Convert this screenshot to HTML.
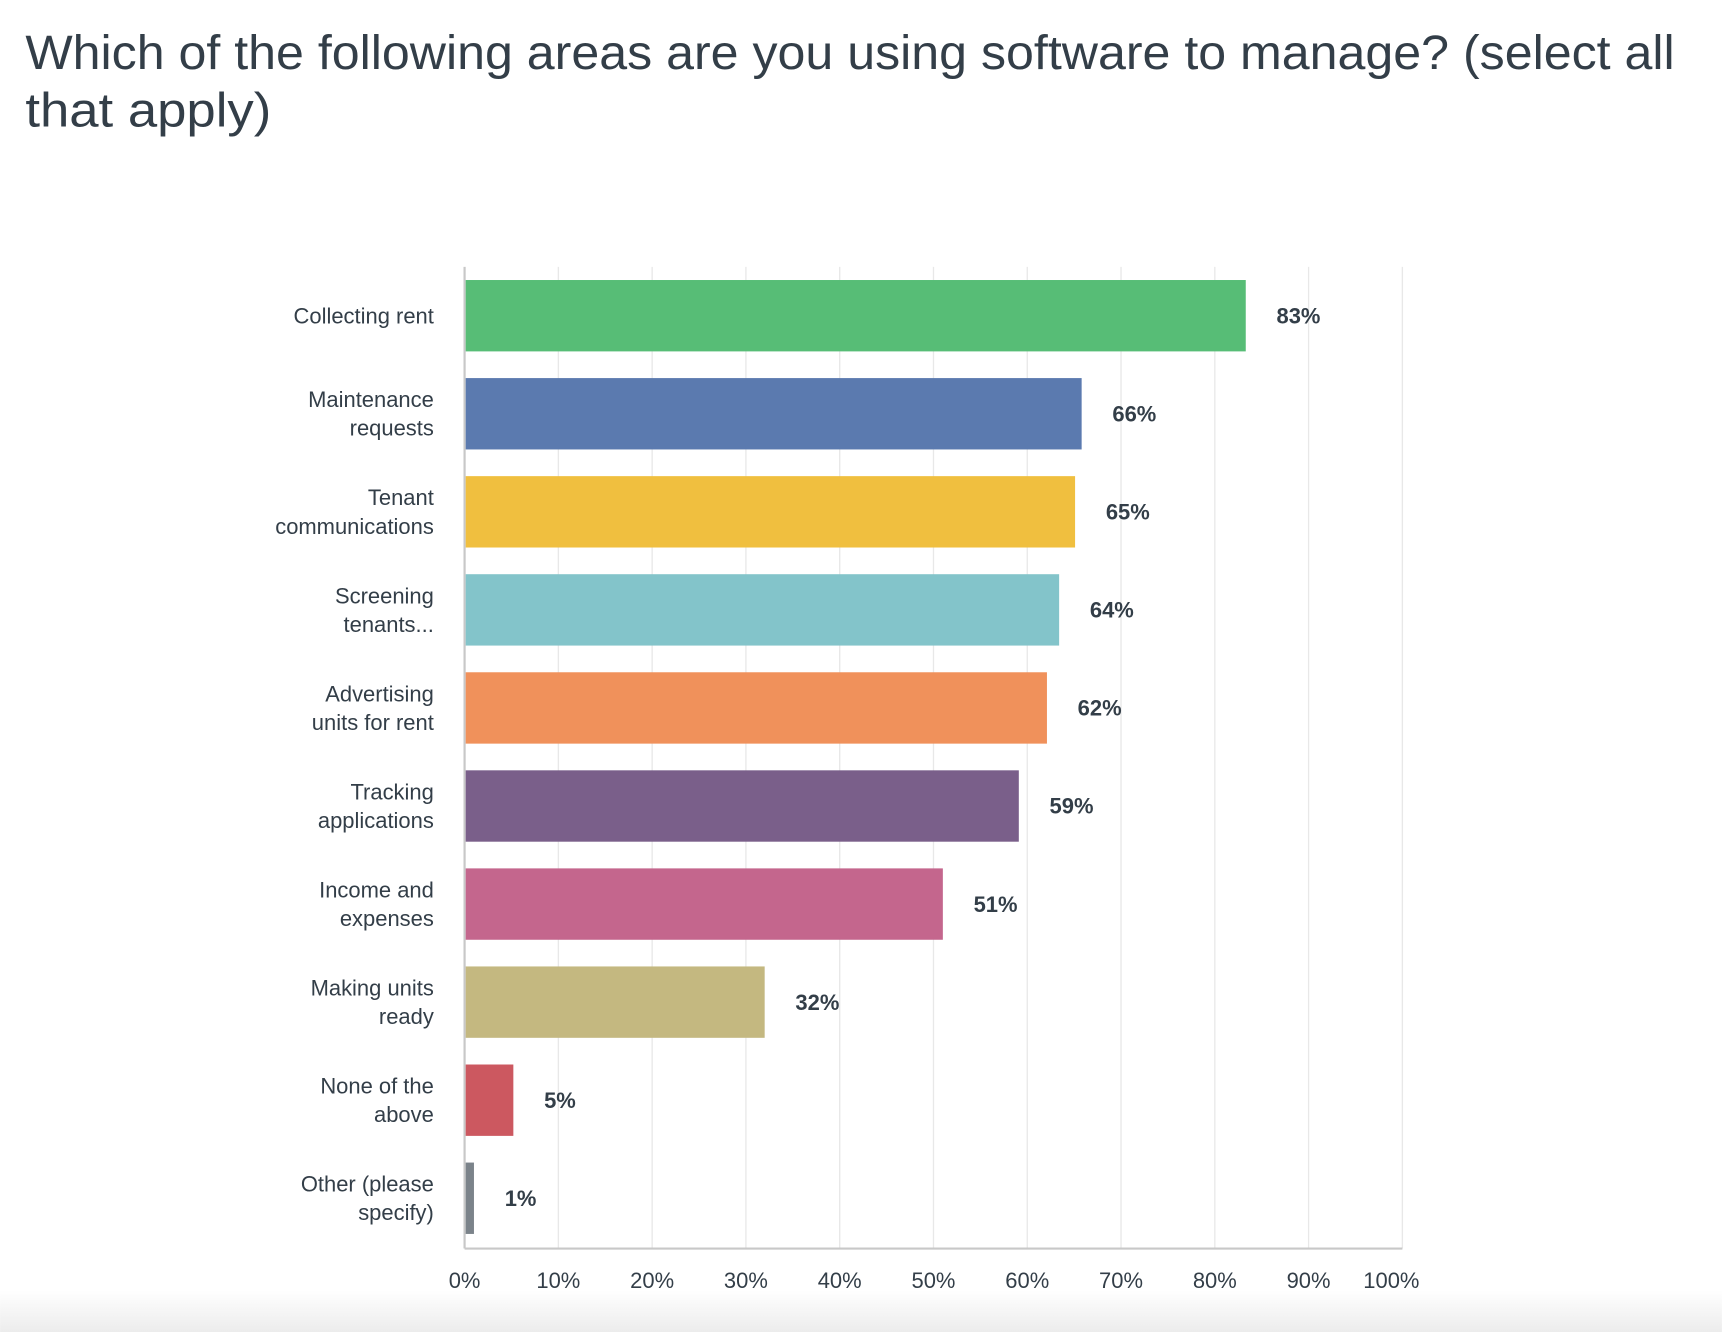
<!DOCTYPE html>
<html><head><meta charset="utf-8"><style>
html,body{margin:0;padding:0;background:#fff;}
svg{display:block;font-family:"Liberation Sans",sans-serif;}
</style></head><body>
<svg id="chart" width="1722" height="1332" viewBox="0 0 1568 1213" xmlns="http://www.w3.org/2000/svg">
<defs><linearGradient id="bg" x1="0" y1="0" x2="0" y2="1"><stop offset="0" stop-color="#ffffff"/><stop offset="1" stop-color="#ececec"/></linearGradient></defs>
<rect x="0" y="1175" width="1568" height="38" fill="url(#bg)"/>
<text x="23" y="63" font-size="44" fill="#333e48" textLength="1502" lengthAdjust="spacingAndGlyphs">Which of the following areas are you using software to manage? (select all</text>
<text x="23" y="115" font-size="44" fill="#333e48" textLength="224" lengthAdjust="spacingAndGlyphs">that apply)</text>
<g id="grid"></g><g id="bars"></g><g id="labels"></g>
</svg>
<script>
const categories=[["Collecting rent"],["Maintenance","requests"],["Tenant","communications"],["Screening","tenants..."],["Advertising","units for rent"],["Tracking","applications"],["Income and","expenses"],["Making units","ready"],["None of the","above"],["Other (please","specify)"]];
const values=[83.3,65.8,65.1,63.4,62.1,59.1,51,32,5.2,1];
const valueLabels=["83%","66%","65%","64%","62%","59%","51%","32%","5%","1%"];
const tickValues=[0,10,20,30,40,50,60,70,80,90,100];
const colors=["#57bd76","#5b7aaf","#f0bf3f","#83c4ca","#f0915b","#7a5f8a","#c4668d","#c4b880","#cc5860","#7b838a"];
const NS="http://www.w3.org/2000/svg";
const x0=423,x1=1277,yTop=243,yBot=1137,bandTop=255,pitch=89.3,barH=65;
const xs=v=>x0+(x1-x0)*v/100;
const ys=i=>bandTop+i*pitch;
function mk(tag,attrs,parent){const e=document.createElementNS(NS,tag);for(const k in attrs)e.setAttribute(k,attrs[k]);document.getElementById(parent).appendChild(e);return e;}
tickValues.forEach(t=>{
  if(t>0){const g=mk('line',{x1:xs(t),x2:xs(t),y1:yTop,y2:yBot,stroke:'#e8e8e8','stroke-width':1.2},'grid');
  
  }
  const tx=t===100?xs(t)-10:xs(t);
  const tl=mk('text',{x:tx,y:1173,'font-size':20,fill:'#333e48','text-anchor':'middle'},'labels');
  tl.textContent=t+'%';
  
  
});
const ya=mk('line',{x1:x0,x2:x0,y1:yTop,y2:yBot,stroke:'#c8c8c8','stroke-width':2},'grid');


const xa=mk('line',{x1:x0,x2:x1,y1:yBot,y2:yBot,stroke:'#c8c8c8','stroke-width':2},'grid');


values.forEach((v,i)=>{
  const y=ys(i);
  const b=mk('rect',{x:x0+1,y:y,width:xs(v)-x0-1,height:barH,fill:colors[i]},'bars');
  
  
  const vl=mk('text',{x:xs(v)+28,y:y+barH/2+7,'font-size':20,'font-weight':'bold',fill:'#333e48'},'labels');
  vl.textContent=valueLabels[i];
  
  
  const lines=categories[i];
  lines.forEach((ln,j)=>{
    const cy=y+barH/2+7+(j-(lines.length-1)/2)*26;
    const cl=mk('text',{x:395,y:cy,'font-size':20,fill:'#333e48','text-anchor':'end'},'labels');
    cl.textContent=ln;
    
    
  });
});
</script>
</body></html>
